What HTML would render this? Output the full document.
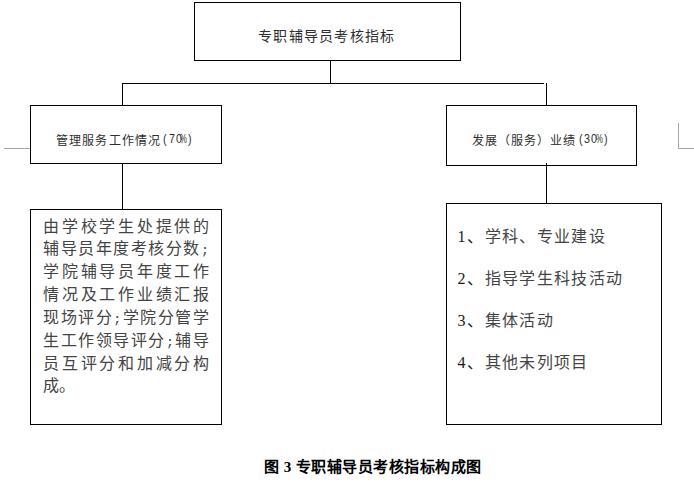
<!DOCTYPE html>
<html lang="zh-CN"><head><meta charset="utf-8"><style>
html,body{margin:0;padding:0;background:#fff;width:694px;height:489px;overflow:hidden;position:relative}
body{font-family:"Liberation Serif",serif;color:#000}
.b{position:absolute;box-sizing:border-box;border:1px solid #000}
.l{position:absolute;background:#000}
.g{position:absolute;background:#a6a6a6}
.t{position:absolute;white-space:nowrap;line-height:1}
.m{color:#2e2e2e;display:inline-block;font-family:"Liberation Sans",sans-serif;transform-origin:0 0}
.sc{font-family:"Liberation Mono",monospace;font-size:13.33px;letter-spacing:0}
.ll div{text-align-last:justify;height:22.85px}
</style></head><body>
<div class="b" style="left:194px;top:2px;width:267px;height:59px"></div>
<div class="b" style="left:30px;top:105px;width:192px;height:59px"></div>
<div class="b" style="left:446px;top:105px;width:191px;height:61px"></div>
<div class="b" style="left:30px;top:209px;width:192px;height:216px"></div>
<div class="b" style="left:446px;top:203px;width:216px;height:222px"></div>

<div class="l" style="left:330px;top:60px;width:1px;height:24px"></div>
<div class="l" style="left:122px;top:83px;width:422px;height:1px"></div>
<div class="l" style="left:122px;top:83px;width:1px;height:23px"></div>
<div class="l" style="left:546px;top:83px;width:1px;height:23px"></div>
<div class="l" style="left:122px;top:163px;width:1px;height:47px"></div>
<div class="l" style="left:546px;top:163px;width:1px;height:41px"></div>

<div class="g" style="left:4px;top:148px;width:26px;height:1px"></div>
<div class="g" style="left:678px;top:123px;width:1px;height:26px"></div>
<div class="g" style="left:678px;top:148px;width:16px;height:1px"></div>

<div class="t" id="t1" style="color:#2e2e2e;left:258px;top:30px;font-size:14px;letter-spacing:1.25px">专职辅导员考核指标</div>

<div class="t" style="color:#2e2e2e;left:56px;top:134.5px;font-size:12px;letter-spacing:1.14px">管理服务工作情况</div>
<span class="t m" style="left:163.3px;top:133px;font-size:12.5px;transform:scaleX(0.86)">(</span>
<span class="t m" style="left:168.5px;top:133px;font-size:12.5px;transform:scaleX(0.86)">7</span>
<span class="t m" style="left:176.0px;top:133px;font-size:12.5px;transform:scaleX(0.86)">0</span>
<span class="t m" style="left:180.2px;top:133px;font-size:12.5px;transform:scaleX(0.62)">%</span>
<span class="t m" style="left:187.7px;top:133px;font-size:12.5px;transform:scaleX(0.86)">)</span>

<div class="t" style="color:#2e2e2e;left:471.8px;top:134.5px;font-size:12px;letter-spacing:1px">发展（服务）业绩</div>
<span class="t m" style="left:579.3px;top:133px;font-size:12.5px;transform:scaleX(0.86)">(</span>
<span class="t m" style="left:584.0px;top:133px;font-size:12.5px;transform:scaleX(0.86)">3</span>
<span class="t m" style="left:591.4px;top:133px;font-size:12.5px;transform:scaleX(0.86)">0</span>
<span class="t m" style="left:595.9px;top:133px;font-size:12.5px;transform:scaleX(0.62)">%</span>
<span class="t m" style="left:603.5px;top:133px;font-size:12.5px;transform:scaleX(0.86)">)</span>

<div class="t ll" id="ll" style="color:#444;left:43px;top:215.5px;font-size:16px;line-height:22.85px;white-space:normal;width:166px">
<div>由学校学生处提供的</div>
<div>辅导员年度考核分数<span class="sc">;</span></div>
<div>学院辅导员年度工作</div>
<div>情况及工作业绩汇报</div>
<div>现场评分<span class="sc">;</span>学院分管学</div>
<div>生工作领导评分<span class="sc">;</span>辅导</div>
<div>员互评分和加减分构</div>
<div style="text-align-last:left">成。</div>
</div>

<div class="t" id="lr" style="color:#444;left:457.5px;top:229px;font-size:16px;letter-spacing:1.4px">
<div style="height:42.1px"><span style="letter-spacing:1.5px;color:#1a1a1a">1、</span>学科、专业建设</div>
<div style="height:42.1px"><span style="letter-spacing:1.5px;color:#1a1a1a">2、</span>指导学生科技活动</div>
<div style="height:42.1px"><span style="letter-spacing:1.5px;color:#1a1a1a">3、</span>集体活动</div>
<div style="height:42.1px"><span style="letter-spacing:1.5px;color:#1a1a1a">4、</span>其他未列项目</div>
</div>

<div class="t" id="cap" style="left:264px;top:460px;font-size:15px;font-weight:bold;letter-spacing:0.48px">图 3 专职辅导员考核指标构成图</div>
</body></html>
